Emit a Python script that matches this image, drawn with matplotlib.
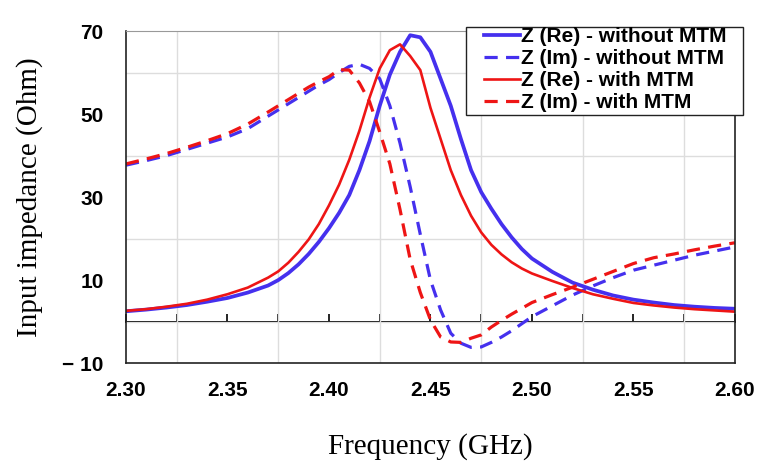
import matplotlib
matplotlib.use("Agg")
from matplotlib import pyplot as plt
from matplotlib.patches import Rectangle

plt.rcParams['lines.scale_dashes'] = False

# frequency (GHz)
freq = [2.30, 2.31, 2.32, 2.33, 2.34, 2.35, 2.36, 2.37, 2.375, 2.38,
        2.385, 2.39, 2.395, 2.40, 2.405, 2.41, 2.415, 2.42, 2.425, 2.43,
        2.435, 2.44, 2.445, 2.45, 2.455, 2.46, 2.465, 2.47, 2.475, 2.48,
        2.485, 2.49, 2.495, 2.50, 2.51, 2.52, 2.53, 2.54, 2.55, 2.56,
        2.57, 2.58, 2.59, 2.60]

# Z (Re) - without MTM
re_without = [2.5, 2.9, 3.4, 4.0, 4.8, 5.7, 7.0, 8.7, 10.0, 11.7,
              13.8, 16.3, 19.2, 22.5, 26.2, 30.5, 36.5, 43.5, 52.0, 59.5,
              65.0, 69.0, 68.5, 65.0, 58.5, 52.0, 44.0, 36.5, 31.2, 27.2,
              23.5, 20.3, 17.5, 15.2, 12.0, 9.4, 7.7, 6.3, 5.3, 4.6,
              4.0, 3.6, 3.3, 3.1]

# Z (Im) - without MTM
im_without = [37.7, 38.8, 40.0, 41.5, 43.0, 44.5, 46.5, 49.5, 51.0, 52.5,
              54.0, 55.5, 57.0, 58.3, 60.0, 61.5, 62.0, 61.0, 58.5, 52.0,
              43.0, 32.5, 21.0, 10.0, 2.8, -2.8, -5.2, -6.2, -6.1, -5.0,
              -3.7, -2.2, -0.5, 1.2, 3.8, 6.4, 8.6, 10.6, 12.4, 13.6,
              14.8, 16.0, 17.0, 18.0]

# Z (Re) - with MTM
re_with = [2.6, 3.0, 3.6, 4.3, 5.3, 6.6, 8.2, 10.6, 12.1, 14.2,
           16.8, 19.8, 23.5, 28.0, 33.0, 39.0, 46.0, 54.0, 61.0, 65.4,
           66.8, 64.0, 60.6, 51.5, 44.0, 36.5, 30.5, 25.5, 21.5, 18.5,
           16.2, 14.3, 12.8, 11.6, 9.8, 8.1, 6.6, 5.5, 4.5, 3.9,
           3.4, 3.0, 2.7, 2.4]

# Z (Im) - with MTM
im_with = [38.0, 39.2, 40.5, 42.0, 43.6, 45.3, 47.6, 50.5, 52.0, 53.5,
           55.0, 56.5, 57.8, 59.0, 60.7, 60.6, 57.5, 53.0, 45.7, 38.0,
           27.0, 15.0, 7.0, 0.4, -3.7, -4.9, -5.0, -4.0, -3.2, -1.3,
           0.3, 1.8, 3.2, 4.6, 6.5, 8.3, 10.2, 12.1, 14.0, 15.4,
           16.3, 17.3, 18.2, 19.0]

xticks = [2.30, 2.35, 2.40, 2.45, 2.50, 2.55, 2.60]
yticks = [-10, 10, 30, 50, 70]
ylabels = ['\u2212 10', '10', '30', '50', '70']

blue = '#4530ee'
red = '#ee1515'

fig = plt.figure(figsize=(7.7, 4.71), dpi=100)
ax = fig.add_axes([0.1636, 0.229, 0.7909, 0.705])

ax.plot(freq, re_without, color=blue, lw=2.7, label='Z (Re) - without MTM')
ax.plot(freq, im_without, color=blue, lw=2.3, dashes=(9.5, 6),
        label='Z (Im) - without MTM')
ax.plot(freq, re_with, color=red, lw=1.9, label='Z (Re) - with MTM')
ax.plot(freq, im_with, color=red, lw=2.3, dashes=(9.5, 6),
        label='Z (Im) - with MTM')

ax.set_xlim(2.30, 2.60)
ax.set_ylim(-10, 70)

# grid
ax.set_xticks([2.30 + 0.025 * i for i in range(13)], minor=True)
ax.set_yticks(range(-10, 71, 10), minor=True)
ax.grid(which='minor', color='#dddddd', lw=1)
ax.set_axisbelow(True)

ax.set_xticks(xticks)
ax.set_xticklabels(['%.2f' % v for v in xticks])
ax.set_yticks(yticks)
ax.set_yticklabels(ylabels)
ax.tick_params(which='both', length=0)
ax.tick_params(axis='x', pad=13)
ax.tick_params(axis='y', pad=16)
for lab in ax.get_xticklabels() + ax.get_yticklabels():
    lab.set_family('Liberation Sans')
    lab.set_fontweight('bold')
    lab.set_fontsize(15)

for s in ['left', 'bottom', 'right']:
    ax.spines[s].set_color('#222222')
    ax.spines[s].set_linewidth(1.2)
ax.spines['top'].set_color('#999999')

# zero line with upward ticks
zero = ax.secondary_xaxis(10 / 80)
zero.set_xticks([2.30 + 0.025 * i for i in range(13)])
zero.tick_params(direction='in', length=6, width=1.2, labelbottom=False,
                 color='black')
zero.spines['bottom'].set_linewidth(1.4)
zero.spines['bottom'].set_color('black')

ax.set_xlabel('Frequency (GHz)', family='Liberation Serif', fontsize=21,
              labelpad=24)
ax.set_ylabel('Input impedance (Ohm)', family='Liberation Serif',
              fontsize=21, labelpad=14)

# legend box (wider than its content, sticks out past the axes)
fig.patches.append(Rectangle((0.6052, 0.7558), 0.3597, 0.1868,
                             transform=fig.transFigure, facecolor='white',
                             edgecolor='#222222', lw=1.0, zorder=5))
leg = ax.legend(loc='upper right', bbox_to_anchor=(0.943, 0.9425),
                bbox_transform=fig.transFigure, frameon=False,
                borderaxespad=0, borderpad=0,
                handlelength=1.7, handletextpad=0.05, labelspacing=0.14,
                prop={'family': 'Liberation Sans', 'weight': 'bold',
                      'size': 15})
leg.set_zorder(6)
fig.legends.append(leg)
ax.legend_ = None

fig.savefig('out.png', dpi=100)
